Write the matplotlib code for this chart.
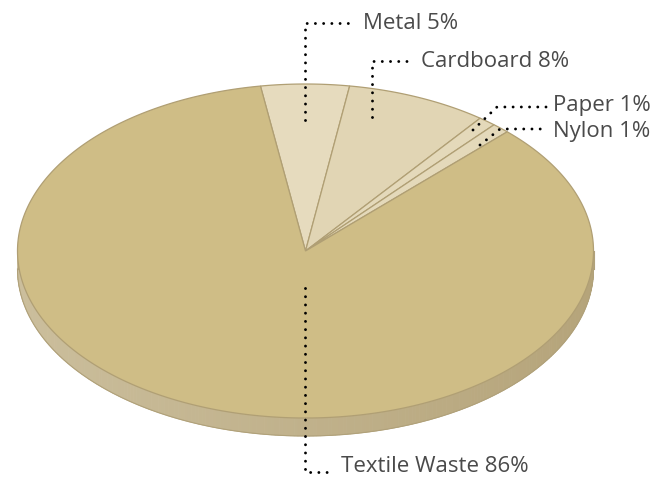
import numpy as np
import matplotlib
matplotlib.use("Agg")
import matplotlib.pyplot as plt
from matplotlib.patches import Polygon
from matplotlib.colors import to_rgb

# Waste composition (percent)
categories = ["Metal", "Cardboard", "Paper", "Nylon", "Textile Waste"]
values = [5, 8, 1, 1, 86]
labels = [f"{c} {v}%" for c, v in zip(categories, values)]

top_colors = ["#E6DBBE", "#E1D5B4", "#E4D9BA", "#E4D9BA", "#CFBD86"]
edge_color = "#B09F74"
text_color = "#4A4A4A"

W, H = 654, 478
fig = plt.figure(figsize=(W / 100, H / 100), dpi=100)
ax = fig.add_axes([0, 0, 1, 1])
ax.set_xlim(0, W)
ax.set_ylim(H, 0)
ax.axis("off")

# Ellipse geometry of the tilted pie (pixel space)
cx, cy, rx, ry, depth = 305.5, 251.0, 288.0, 167.0, 18.0
start = 99.0


def pt(t_deg, dy=0.0):
    t = np.radians(t_deg)
    return cx + rx * np.cos(t), cy - ry * np.sin(t) + dy


# Side wall: lower half of the ellipse, shaded left to right
c_left = np.array(to_rgb("#CBBE9C"))
c_right = np.array(to_rgb("#B5A47A"))
n = 240
ts = np.linspace(180, 360, n + 1)
for i in range(n):
    a, b = ts[i], ts[i + 1]
    xa, ya = pt(a)
    xb, yb = pt(b)
    frac = (xa - (cx - rx)) / (2 * rx)
    col = c_left * (1 - frac) + c_right * frac
    ax.add_patch(Polygon([(xa, ya), (xb, yb), (xb, yb + depth), (xa, ya + depth)],
                         closed=True, facecolor=col, edgecolor=col, lw=0.6, zorder=1))
bx, by = zip(*[pt(t, depth) for t in ts])
ax.plot(bx, by, color="#B0A17A", lw=0.8, zorder=2)
for t in (180, 360):
    x0, y0 = pt(t)
    ax.plot([x0, x0], [y0, y0 + depth], color="#B0A17A", lw=0.8, zorder=2)

# Top face wedges, clockwise from the start angle
total = sum(values)
angle = start
for v, col in zip(values, top_colors):
    span = 360.0 * v / total
    tt = np.linspace(angle, angle - span, max(int(span * 2), 4))
    verts = [(cx, cy)] + [pt(t) for t in tt]
    ax.add_patch(Polygon(verts, closed=True, facecolor=col, edgecolor=edge_color,
                         lw=0.9, joinstyle="miter", zorder=3))
    angle -= span

# Leader lines and labels
lw_dot = 2.1
dot_kw = dict(color="black", lw=lw_dot, linestyle=(0, (0.01, 5.9 / lw_dot)),
              dash_capstyle="round", zorder=5)
leaders = [
    ([305, 305, 349], [120, 23, 23], (363, 23)),
    ([372, 372, 414], [117, 61, 61], (421, 61)),
    ([473, 497, 546], [130, 107, 107], (553, 105)),
    ([480, 500, 546], [145, 129, 129], (553, 131)),
    ([305, 305, 334], [288, 472, 472], (341, 466)),
]
for (xs, ys, (tx, ty)), lab in zip(leaders, labels):
    ax.plot(xs, ys, **dot_kw)
    ax.text(tx, ty, lab, fontsize=16, color=text_color, family="Open Sans",
            ha="left", va="center", zorder=6)

fig.savefig("out.png", dpi=100)
